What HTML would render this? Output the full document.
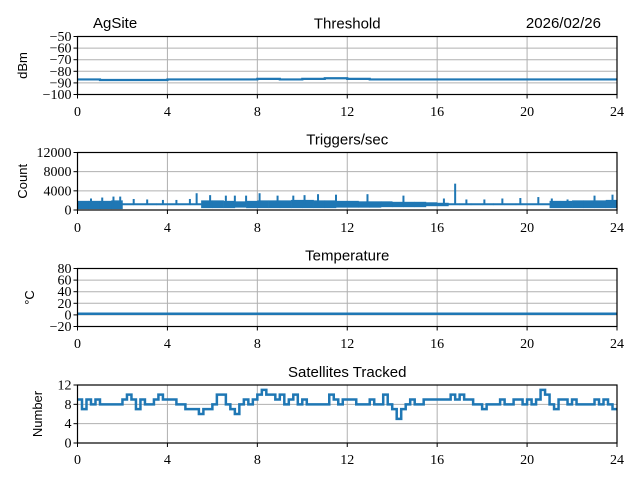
<!DOCTYPE html>
<html><head><meta charset="utf-8"><style>
body{margin:0;background:#fff}
svg{display:block}
.tk{font-family:"Liberation Serif",serif;font-size:14px;fill:#000}
.tt{font-family:"Liberation Sans",sans-serif;font-size:15px;fill:#000}
.yl{font-family:"Liberation Sans",sans-serif;font-size:13px;fill:#000}
</style></head><body>
<svg id="c" width="640" height="480"></svg>
<script>
const xTicks=[0,4,8,12,16,20,24];
const thrTicks=[-50,-60,-70,-80,-90,-100];
const trigTicks=[0,4000,8000,12000];
const tempTicks=[-20,0,20,40,60,80];
const satTicks=[0,4,8,12];
const thrLevel=[-87,-87.5,-87.5,-87.5,-87,-87,-87,-87,-86.5,-87,-86.5,-86,-86.5,-87,-87,-87,-87,-87,-87,-87,-87,-87,-87,-87];
const tempLevel=2;
const trigBinLo=[400,400,400,400,1200,1200,1200,1200,1200,1200,1200,600,600,600,700,600,600,600,600,600,600,600,600,700,700,700,700,800,800,800,800,1000,1000,1200,1200,1200,1200,1200,1200,1200,1200,1200,600,600,600,600,600,600];
const trigBinHi=[1700,1700,1700,1800,1200,1200,1200,1200,1200,1200,1200,1800,1800,1700,1600,1700,1800,1800,1800,1900,1900,1800,1800,1700,1700,1600,1600,1600,1500,1500,1500,1400,1300,1200,1200,1200,1200,1200,1200,1200,1200,1200,1700,1700,1800,1800,1800,1900];
const spikeHours=[0.6,1.1,1.6,1.9,2.5,3.1,3.8,4.4,5.0,5.3,5.9,6.6,7.0,7.5,8.1,8.9,9.6,10.1,10.7,11.5,12.9,14.5,16.3,16.8,17.3,18.1,18.9,19.7,20.5,21.1,21.8,23.0,23.8];
const spikeVals=[2400,2600,2800,2800,2300,2200,2100,2100,2300,3500,3100,3000,3000,3000,3500,3000,3000,3100,3300,3200,3300,3000,2400,5500,2200,2200,2400,2500,2700,2400,2200,3000,3200];
const satVals=[9,7,9,8,9,8,8,8,8,8,9,10,9,7,9,8,8,9,10,9,9,9,8,8,7,7,7,6,7,7,8,10,10,8,7,6,8,9,8,9,10,11,10,10,9,10,8,9,10,8,9,8,8,8,8,8,10,9,8,9,9,9,8,8,8,9,8,8,10,8,7,5,7,8,9,8,8,9,9,9,9,9,9,10,9,10,9,9,8,8,7,8,8,8,9,8,8,9,9,8,9,8,9,11,10,8,7,9,9,8,9,8,8,8,8,9,8,9,8,7];
const NS='http://www.w3.org/2000/svg';
const svg=document.getElementById('c');
const X0=77.5,X1=617;
function sx(h){return X0+(X1-X0)*h/24;}
function mk(tag,at,txt){const e=document.createElementNS(NS,tag);for(const k in at)e.setAttribute(k,at[k]);if(txt!==undefined)e.textContent=txt;svg.appendChild(e);return e;}
function fmt(v){return v<0?'\u2212'+(-v):''+v;}
const panels=[
 {name:'threshold',t:36.5,b:94.5,lo:-100,hi:-50,ticks:thrTicks,yl:'dBm',title:'Threshold',xl:111},
 {name:'triggers',t:152.5,b:210,lo:0,hi:12000,ticks:trigTicks,yl:'Count',title:'Triggers/sec',xl:227},
 {name:'temperature',t:268.5,b:326.5,lo:-20,hi:80,ticks:tempTicks,yl:'\u00B0C',title:'Temperature',xl:343},
 {name:'satellites',t:385,b:443,lo:0,hi:12,ticks:satTicks,yl:'Number',title:'Satellites Tracked',xl:459}
];
panels.forEach((p,i)=>{
 const sy=v=>p.b-(p.b-p.t)*(v-p.lo)/(p.hi-p.lo);
 p.sy=sy;
 xTicks.forEach(h=>{
  let g=mk('line',{x1:sx(h),x2:sx(h),y1:p.t,y2:p.b,stroke:'#b0b0b0','stroke-width':1});
  
  mk('line',{x1:sx(h),x2:sx(h),y1:p.b,y2:p.b+4,stroke:'#000'});
  let t=mk('text',{x:sx(h),y:p.xl+5,'text-anchor':'middle',class:'tk'},''+h);
  
 });
 p.ticks.forEach(v=>{
  const y=sy(v);
  let g=mk('line',{x1:X0,x2:X1,y1:y,y2:y,stroke:'#b0b0b0','stroke-width':1});
  
  mk('line',{x1:X0-4,x2:X0,y1:y,y2:y,stroke:'#000'});
  let t=mk('text',{x:X0-6,y:y+4.5,'text-anchor':'end',class:'tk'},fmt(v));
  
 });
 let ti=mk('text',{x:(X0+X1)/2,y:p.t-8,'text-anchor':'middle',class:'tt'},p.title);
 
 const lx=i==3?42:(i==2?34:27);
 let yl=mk('text',{x:lx,y:(p.t+p.b)/2,'text-anchor':'middle',class:'yl',transform:'rotate(-90 '+lx+' '+(p.t+p.b)/2+')'},p.yl);
 
});
const C='#1f77b4';
{const p=panels[0];let d='';thrLevel.forEach((v,i)=>{d+=(i?'L':'M')+sx(i)+' '+p.sy(v)+' L'+sx(i+1)+' '+p.sy(v)+' ';});
 const e=mk('path',{d:d,fill:'none',stroke:C,'stroke-width':2.2});
 }
{const p=panels[1];
 trigBinLo.forEach((lo,i)=>{const hi=trigBinHi[i];const y1=p.sy(hi),y2=p.sy(lo);
  const r=mk('rect',{x:sx(i*0.5),y:Math.min(y1,y2)-1,width:sx(0.5)-sx(0)+0.3,height:Math.abs(y2-y1)+2,fill:C});
  });
 spikeHours.forEach((h,i)=>{const l=mk('line',{x1:sx(h),x2:sx(h),y1:p.sy(1200),y2:p.sy(spikeVals[i]),stroke:C,'stroke-width':2});
  });
}
{const p=panels[2];const e=mk('line',{x1:X0,x2:X1,y1:p.sy(tempLevel),y2:p.sy(tempLevel),stroke:C,'stroke-width':2.5});
 }
{const p=panels[3];const n=satVals.length;let d='';
 satVals.forEach((v,i)=>{const h0=24*i/n,h1=24*(i+1)/n;d+=(i?'L':'M')+sx(h0)+' '+p.sy(v)+' L'+sx(h1)+' '+p.sy(v)+' ';});
 const e=mk('path',{d:d,fill:'none',stroke:C,'stroke-width':2.5});
 }
panels.forEach(p=>{const r=mk('rect',{x:X0,y:p.t,width:X1-X0,height:p.b-p.t,fill:'none',stroke:'#000','stroke-width':1.2});
 });
let a=mk('text',{x:93,y:28,class:'tt'},'AgSite');
let dt=mk('text',{x:601,y:28,'text-anchor':'end',class:'tt'},'2026/02/26');
</script>
</body></html>
